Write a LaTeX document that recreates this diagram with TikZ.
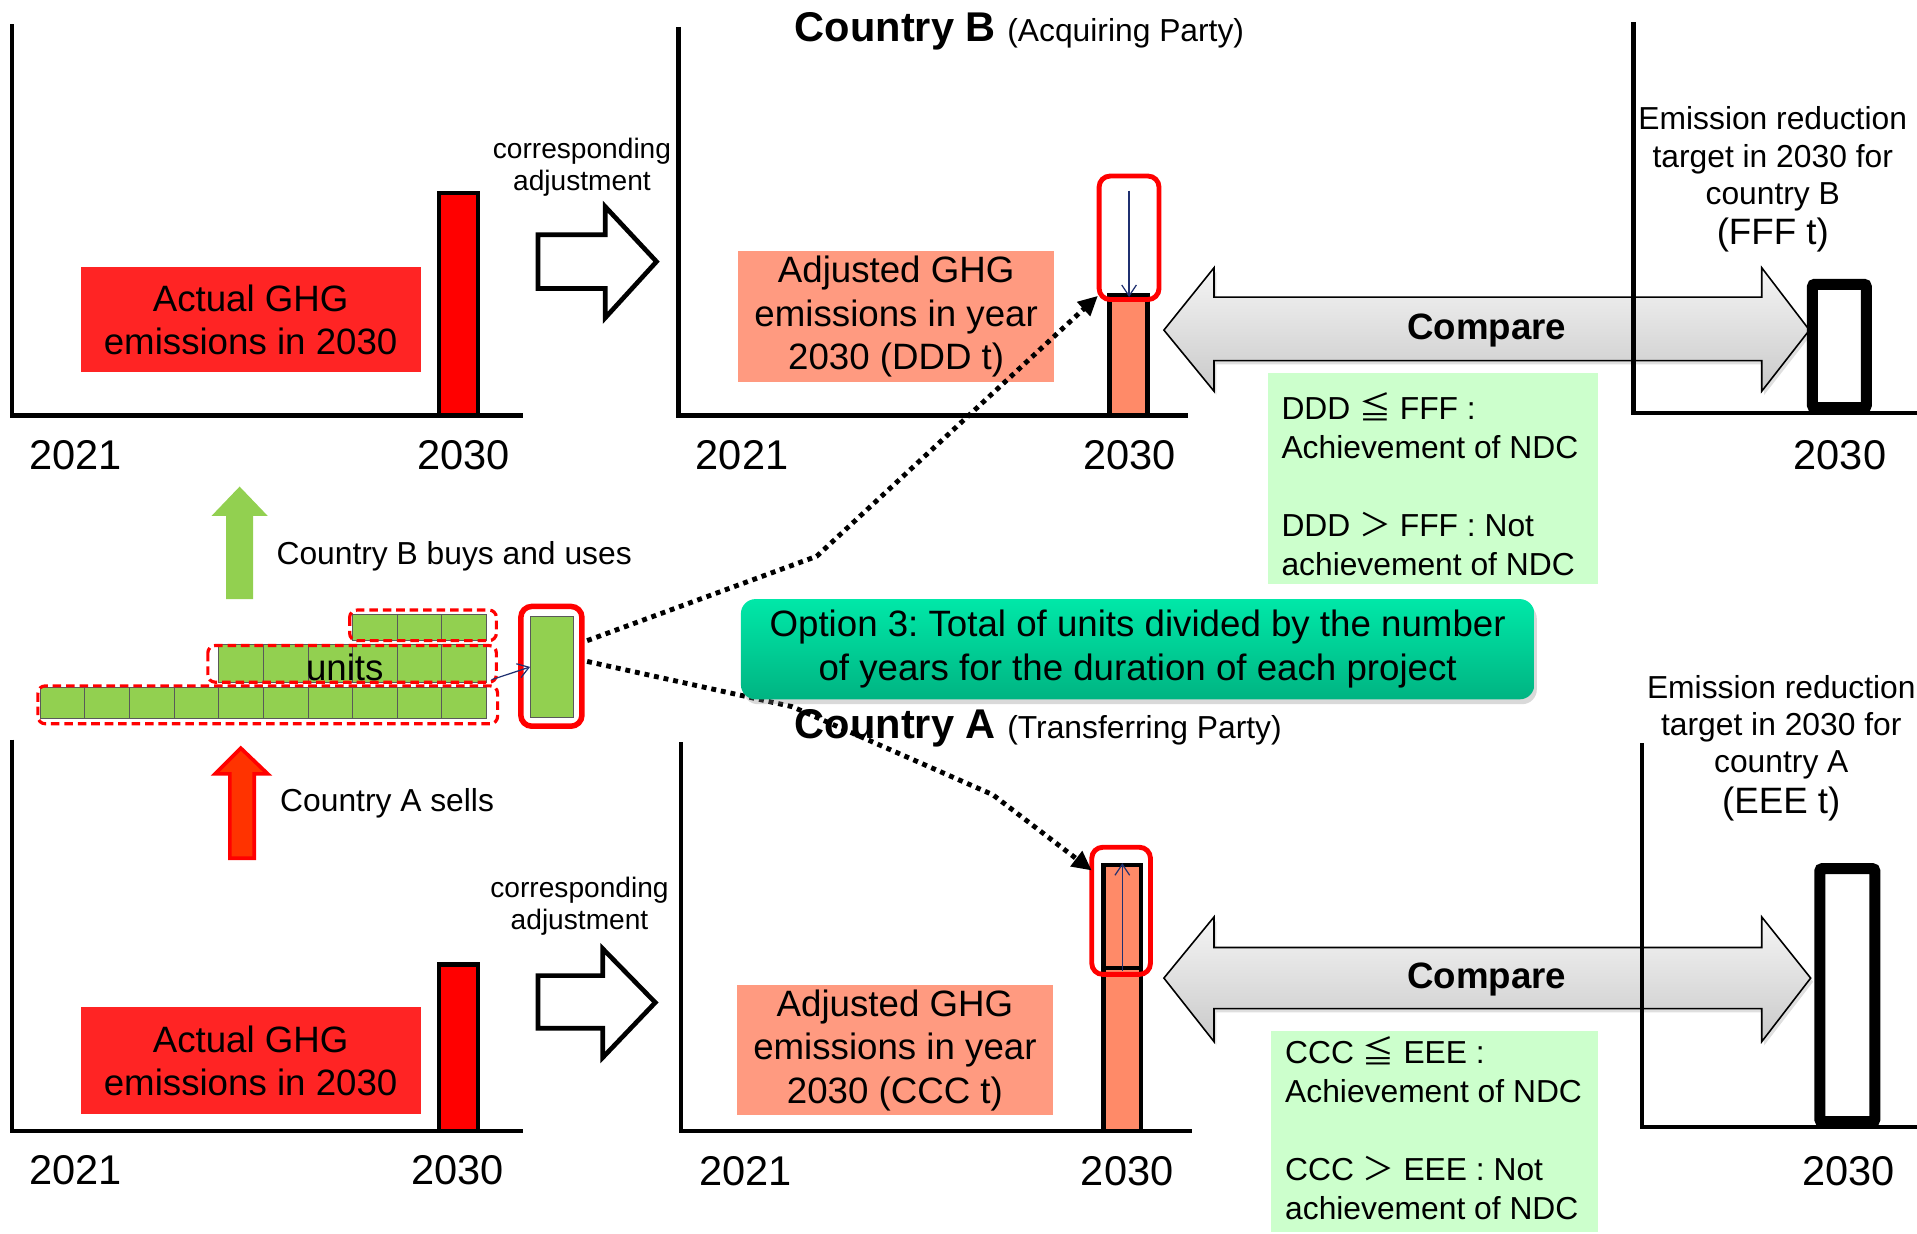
\documentclass[tikz,border=0pt]{standalone}
\usepackage{fontspec}
\setmainfont{Liberation Sans}
\newfontfamily\cjk{Noto Sans CJK JP}
\usetikzlibrary{arrows.meta,shadows,calc}
\definecolor{barred}{HTML}{FF0000}
\definecolor{lblred}{HTML}{FF2424}
\definecolor{lblsalmon}{HTML}{FF9A80}
\definecolor{coral}{HTML}{FF8A68}
\definecolor{unitgreen}{HTML}{92D050}
\definecolor{notegreen}{HTML}{CCFFCC}
\definecolor{opttop}{HTML}{00E8A8}
\definecolor{optbot}{HTML}{00B482}
\definecolor{navy}{HTML}{1F3070}
\definecolor{arrowred}{HTML}{FF3300}
\frenchspacing
\begin{document}
\begin{tikzpicture}[x=1pt,y=-1pt,
  axisline/.style={line width=3.6pt, line join=miter},
  barbox/.style={draw=black, line width=3.6pt},
  lbl/.style={inner sep=0, align=center, font=\fontsize{30}{35.5}\selectfont},
  yearlbl/.style={inner sep=0, font=\fontsize{34}{40}\selectfont},
  small/.style={inner sep=0, align=center, font=\fontsize{23}{26}\selectfont},
  mid/.style={inner sep=0, font=\fontsize{26}{30}\selectfont},
  tgt/.style={inner sep=0, align=center, font=\fontsize{26}{30.5}\selectfont},
  tgtval/.style={inner sep=0, font=\fontsize{30}{34}\selectfont},
  note/.style={inner sep=0, align=left, font=\fontsize{26}{32}\selectfont},
  cmptext/.style={inner sep=0, font=\fontsize{30}{36}\selectfont\bfseries},
  redframe/.style={draw=red, line width=4pt, rounded corners=9pt, inner sep=0},
  hollow/.style={draw=black, line width=3.8pt, fill=white, line join=miter},
  cmp/.style={draw=black, line width=1.3pt, top color=gray!8, bottom color=gray!42, line join=miter,
     drop shadow={shadow xshift=2pt, shadow yshift=-3pt, opacity=0.25}},
  dashedframe/.style={draw=red, line width=2.6pt, dash pattern=on 7pt off 4pt, rounded corners=6pt},
  unitsq/.style={fill=unitgreen, draw=black!65, line width=0.8pt},
  dots/.style={line width=4pt, dash pattern=on 4pt off 4pt, -{Triangle[length=16pt,width=15pt]}},
  thinarrow/.style={draw=navy, line width=1pt, -{Straight Barb[length=9pt,width=12pt]}},
  target/.style={line width=9pt, rounded corners=2pt},
]
\useasboundingbox (0,0) rectangle (1568,1009);

% ---------- top-left chart (country B actual) ----------
\draw[axisline] (10,20) -- (10,340) -- (428,340);
\filldraw[barbox, fill=barred] (359,158) rectangle (391,340);
\node[lbl, fill=lblred, minimum width=278pt, minimum height=86pt] (actB) at (205,261.5) {Actual GHG\\emissions in 2030};
\node[yearlbl] (y1) at (62,372) {2021};
\node[yearlbl] (y2) at (379,372) {2030};
\node[small] (caB) at (476,137) {corresponding\\adjustment};
\draw[hollow] (440,192) -- (495,192) -- (495,169) -- (537,214) -- (495,260) -- (495,236) -- (440,236) -- cycle;

% ---------- top-middle chart ----------
\draw[axisline] (555,22) -- (555,340) -- (972,340);
\node[anchor=base west, inner sep=0] (titleB) at (650,34) {\fontsize{34}{40}\selectfont\bfseries Country B \fontsize{26}{30}\selectfont\mdseries (Acquiring Party)};
\node[lbl, fill=lblsalmon, minimum width=258pt, minimum height=107pt] (adjB) at (733,259) {Adjusted GHG\\emissions in year\\2030 (DDD t)};
\filldraw[barbox, fill=coral] (907.5,241.5) rectangle (938.5,340);
\node[redframe, minimum width=49pt, minimum height=101pt] (selB) at (923.5,194.5) {};
\draw[thinarrow] ($(selB.north)+(0,14)$) -- ($(selB.south)+(0,-4)$);
\node[yearlbl] (y3) at (607,372) {2021};
\node[yearlbl] (y4) at (924,372) {2030};

% compare (top)
\draw[cmp] (952,270) -- (993,219) -- (993,243) -- (1441,243) -- (1441,219) -- (1480,270) -- (1441,320) -- (1441,295) -- (993,295) -- (993,320) -- cycle;
\node[cmptext] (cmpB) at (1216,270) {Compare};
\fill[notegreen] (1037,305) rectangle (1307,478);
\node[note, anchor=west] (noteB) at (1048,396) {DDD {\cjk ≦} FFF :\\Achievement of NDC\\[32pt]DDD {\cjk ＞} FFF : Not\\achievement of NDC};

% ---------- top-right chart ----------
\draw[axisline] (1336,18) -- (1336,338) -- (1568,338);
\draw[target] (1482.5,232.5) rectangle (1526.5,333.5);
\node[tgt] (tgtB) at (1450,130) {Emission reduction\\target in 2030 for\\country B};
\node[tgtval] (fffB) at (1450,192) {(FFF t)};
\node[yearlbl] (y5) at (1505,372) {2030};

% ---------- middle: units ----------
\fill[unitgreen] (185,490) -- (185,422) -- (173,422) -- (196,398) -- (219,422) -- (207,422) -- (207,490) -- cycle;
\node[mid, anchor=west] (buyB) at (226,455) {Country B buys and uses};

\foreach \i in {0,...,9} \filldraw[unitsq] ({33+36.5*\i},562) rectangle ++(36.5,26);
\foreach \i in {4,...,9} \filldraw[unitsq] ({33+36.5*\i},527) rectangle ++(36.5,31);
\foreach \i in {7,8,9} \filldraw[unitsq] ({33+36.5*\i},503) rectangle ++(36.5,21);
\draw[dashedframe] (31,561) rectangle (407,592);
\draw[dashedframe] (170,528) rectangle (406,558);
\draw[dashedframe] (286,499) rectangle (406,524);
\node[inner sep=0, font=\fontsize{30}{36}\selectfont] (unitsT) at (282,546) {units};

\node[redframe, line width=4.5pt, minimum width=50pt, minimum height=98pt] (ubox) at (451,545) {};
\node[unitsq, minimum width=35pt, minimum height=83pt, inner sep=0] (ugreen) at (451.5,545.5) {};
\coordinate (rowend) at (402,556);
\draw[thinarrow] (rowend) -- (ugreen.west);

\filldraw[fill=arrowred, draw=red, line width=3pt] (188,702) -- (188,633) -- (176,633) -- (197,612) -- (219,633) -- (208,633) -- (208,702) -- cycle;
\node[mid, anchor=west] (sellA) at (229,657) {Country A sells};

% ---------- bottom-left chart ----------
\draw[axisline] (10,605) -- (10,925) -- (428,925);
\filldraw[barbox, fill=barred] (359,789) rectangle (391,925);
\node[lbl, fill=lblred, minimum width=278pt, minimum height=87pt] (actA) at (205,867.5) {Actual GHG\\emissions in 2030};
\node[yearlbl] (y6) at (62,957) {2021};
\node[yearlbl] (y7) at (374,957) {2030};
\node[small] (caA) at (474,741) {corresponding\\adjustment};
\draw[hollow] (440,798) -- (493,798) -- (493,776) -- (536,820) -- (493,865) -- (493,841) -- (440,841) -- cycle;

% ---------- bottom-middle chart ----------
\draw[axisline] (557,607) -- (557,925) -- (975,925);
\node[anchor=base west, inner sep=0] (titleA) at (650,604) {\fontsize{34}{40}\selectfont\bfseries Country A \fontsize{26}{30}\selectfont\mdseries (Transferring Party)};
\node[lbl, fill=lblsalmon, minimum width=258pt, minimum height=106pt] (adjA) at (732,859) {Adjusted GHG\\emissions in year\\2030 (CCC t)};
\filldraw[barbox, fill=coral] (902.5,707.5) rectangle (933.5,925);
\draw[line width=3.6pt] (902.5,792) -- (933.5,792);
\node[redframe, minimum width=48pt, minimum height=104pt] (selA) at (917,745) {};
\draw[thinarrow] ($(selA.south)+(1,-5)$) -- ($(selA.north)+(1,15)$);
\node[yearlbl] (y8) at (610,958) {2021};
\node[yearlbl] (y9) at (922,958) {2030};

% compare (bottom)
\draw[cmp] (952,800) -- (993,750) -- (993,775) -- (1441,775) -- (1441,750) -- (1481,800) -- (1441,852) -- (1441,825) -- (993,825) -- (993,852) -- cycle;
\node[cmptext] (cmpA) at (1216,801) {Compare};
\fill[notegreen] (1040,843) rectangle (1307,1008);
\node[note, anchor=west] (noteA) at (1051,923) {CCC {\cjk ≦} EEE :\\Achievement of NDC\\[32pt]CCC {\cjk ＞} EEE : Not\\achievement of NDC};

% ---------- bottom-right chart ----------
\draw[axisline] (1343,608) -- (1343,922) -- (1568,922);
\draw[target] (1488.5,710.5) rectangle (1533.5,917.5);
\node[tgt] (tgtA) at (1457,595) {Emission reduction\\target in 2030 for\\country A};
\node[tgtval] (eeeA) at (1457,658) {(EEE t)};
\node[yearlbl] (y10) at (1512,958) {2030};

% ---------- dotted connectors ----------
\coordinate (bendB) at (668,455);
\coordinate (tipB) at (898,242);
\draw[dots] ($(ubox.east)+(2,-21)$) -- (bendB) -- (tipB);
\coordinate (bendA1) at (648,578);
\coordinate (bendA2) at (812,650);
\coordinate (tipA) at (893,712);
\draw[dots] ($(ubox.east)+(2,-4)$) -- (bendA1) -- (bendA2) -- (tipA);

% ---------- option box ----------
\node[rounded corners=12pt, top color=opttop, bottom color=optbot, minimum width=649pt, minimum height=82pt,
      align=center, font=\fontsize{30}{36}\selectfont, inner sep=0,
      drop shadow={shadow xshift=2pt, shadow yshift=-4pt, opacity=0.3}] (opt) at (930.5,531)
  {Option 3: Total of units divided by the number\\of years for the duration of each project};
\end{tikzpicture}
\end{document}
